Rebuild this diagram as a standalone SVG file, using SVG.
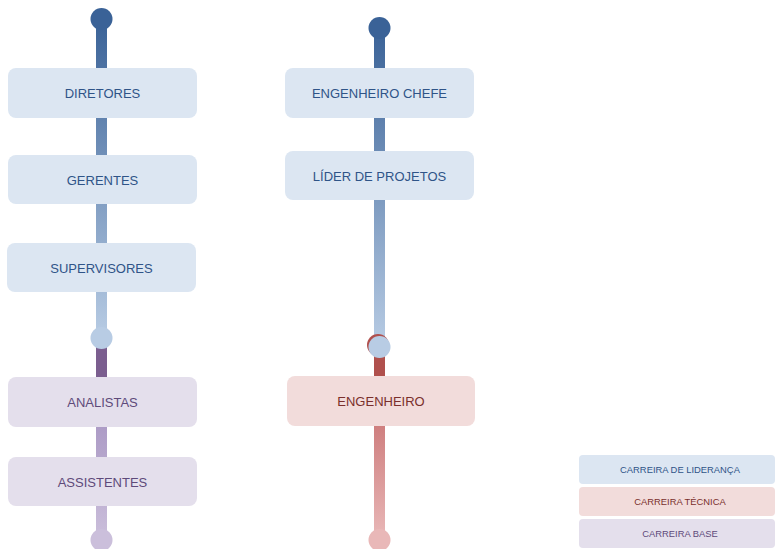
<svg xmlns="http://www.w3.org/2000/svg" width="775" height="549" viewBox="0 0 775 549">
<defs>
<linearGradient id="gBlueL" x1="0" y1="19" x2="0" y2="338" gradientUnits="userSpaceOnUse"><stop offset="0" stop-color="#3a6297"/><stop offset="1" stop-color="#b8cce4"/></linearGradient>
<linearGradient id="gBlueR" x1="0" y1="28" x2="0" y2="347" gradientUnits="userSpaceOnUse"><stop offset="0" stop-color="#3a6297"/><stop offset="1" stop-color="#b8cce4"/></linearGradient>
<linearGradient id="gPurp" x1="0" y1="427" x2="0" y2="540" gradientUnits="userSpaceOnUse"><stop offset="0" stop-color="#ad9cc6"/><stop offset="1" stop-color="#cbbfdb"/></linearGradient>
<linearGradient id="gPink" x1="0" y1="426" x2="0" y2="540" gradientUnits="userSpaceOnUse"><stop offset="0" stop-color="#cf7f7f"/><stop offset="1" stop-color="#e9b8b8"/></linearGradient>
</defs>
<style>
.box{stroke:none}
.lead{fill:#dce6f2}
.tech{fill:#f2dcdb}
.base{fill:#e4dfec}
text{font-family:"Liberation Sans",Arial,sans-serif;text-anchor:middle;dominant-baseline:central}
.t{font-size:13px}
.tl{fill:#2f5488}
.tt{fill:#7a2f2c}
.tb{fill:#5e4a7a}
.lg{font-size:9.4px}
</style>
<g id="connectors">
<rect x="96" y="19" width="11" height="319" fill="url(#gBlueL)"/>
<circle cx="101.5" cy="19" r="11" fill="#3a6297"/>
<rect x="96" y="338" width="11" height="40" fill="#7b5e8f"/>
<circle cx="101.5" cy="338" r="11" fill="#b8cce4"/>
<rect x="96" y="427" width="11" height="113" fill="url(#gPurp)"/>
<circle cx="101.5" cy="540" r="11" fill="#cbbfdb"/>
<rect x="374" y="28" width="11" height="319" fill="url(#gBlueR)"/>
<circle cx="379.5" cy="28" r="11" fill="#3a6297"/>
<rect x="374" y="347" width="11" height="30" fill="#b0504d"/>
<circle cx="378" cy="345" r="11" fill="#b0504d"/>
<circle cx="379.5" cy="347" r="11" fill="#b8cce4"/>
<rect x="374" y="426" width="11" height="114" fill="url(#gPink)"/>
<circle cx="379.5" cy="540" r="11" fill="#e9b8b8"/>
</g>
<g id="diretores"><rect class="box lead" x="8" y="68" width="189" height="50" rx="8"/><text class="t tl" x="102.5" y="93">DIRETORES</text></g>
<g id="gerentes"><rect class="box lead" x="8" y="155" width="189" height="49" rx="8"/><text class="t tl" x="102.5" y="180">GERENTES</text></g>
<g id="supervisores"><rect class="box lead" x="7" y="243" width="189" height="49" rx="8"/><text class="t tl" x="101.5" y="268">SUPERVISORES</text></g>
<g id="analistas"><rect class="box base" x="8" y="377" width="189" height="50" rx="8"/><text class="t tb" x="102.5" y="402">ANALISTAS</text></g>
<g id="assistentes"><rect class="box base" x="8" y="457" width="189" height="49" rx="8"/><text class="t tb" x="102.5" y="482">ASSISTENTES</text></g>
<g id="engenheiro-chefe"><rect class="box lead" x="285" y="68" width="189" height="50" rx="8"/><text class="t tl" x="379.5" y="93">ENGENHEIRO CHEFE</text></g>
<g id="lider-de-projetos"><rect class="box lead" x="285" y="151" width="189" height="49" rx="8"/><text class="t tl" x="379.5" y="176">LÍDER DE PROJETOS</text></g>
<g id="engenheiro"><rect class="box tech" x="287" y="376" width="188" height="50" rx="8"/><text class="t tt" x="381" y="401">ENGENHEIRO</text></g>
<g id="legend">
<rect class="box lead" x="579" y="455" width="196" height="29" rx="4"/><text class="lg tl" x="680" y="469.5">CARREIRA DE LIDERANÇA</text>
<rect class="box tech" x="579" y="487" width="196" height="29" rx="4"/><text class="lg tt" x="680" y="501.5">CARREIRA TÉCNICA</text>
<rect class="box base" x="579" y="519" width="196" height="29" rx="4"/><text class="lg tb" x="680" y="533.5">CARREIRA BASE</text>
</g>
</svg>
